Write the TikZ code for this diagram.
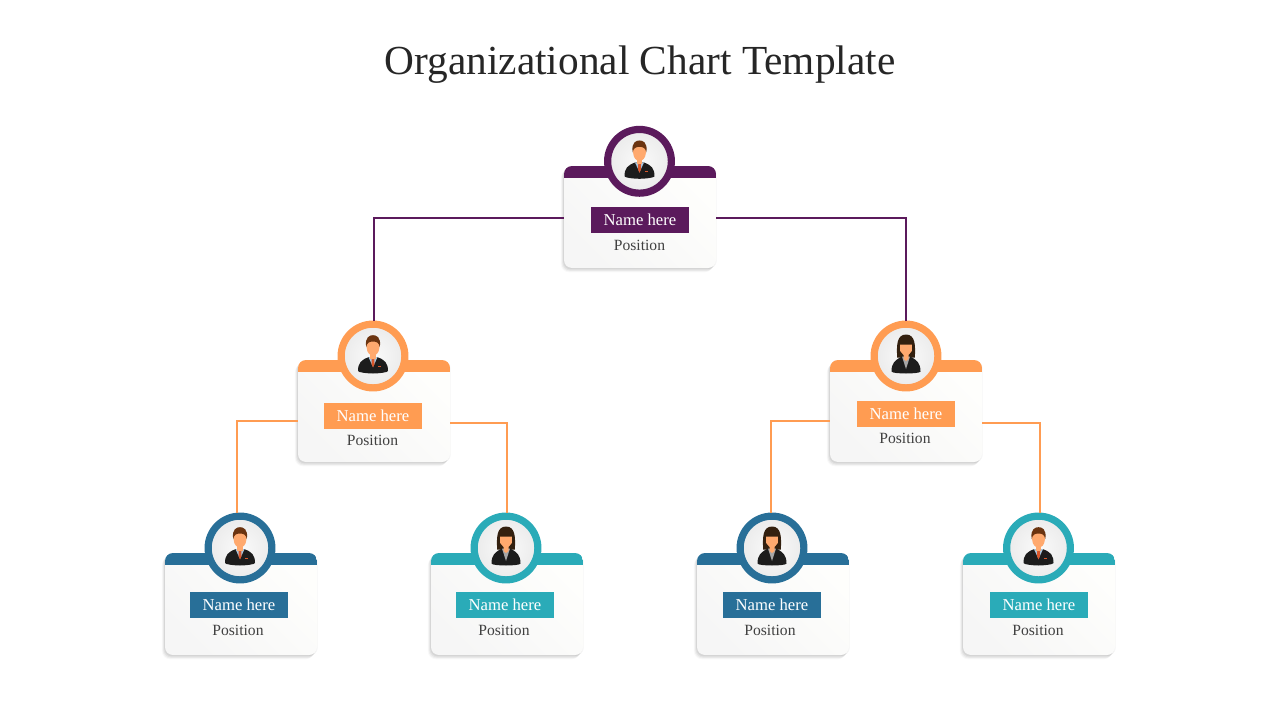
\documentclass[tikz,border=0pt]{standalone}
\usepackage{fontspec}
\setmainfont{Liberation Serif}
\usetikzlibrary{calc,shadows}
\definecolor{figpurple}{HTML}{5B1A5C}
\definecolor{figorange}{HTML}{FF9C52}
\definecolor{figblue}{HTML}{286F98}
\definecolor{figteal}{HTML}{2AABB8}
\definecolor{figtext}{HTML}{404040}
\definecolor{figskin}{HTML}{FFA96E}
\definecolor{fighair}{HTML}{6B3410}
\definecolor{figdarkhair}{HTML}{33200F}
\definecolor{figsuit}{HTML}{1C1C1C}
\definecolor{figshirt}{HTML}{A9C4DA}
\definecolor{figtie}{HTML}{D9572B}
\definecolor{figcardlight}{HTML}{FEFEFC}
\definecolor{figcarddark}{HTML}{F6F6F6}
\tikzset{
  cardblock/.style={
    rectangle, rounded corners=6pt, minimum width=114pt, minimum height=76.5pt,
    inner sep=0pt, top color=figcardlight, bottom color=figcarddark, shading angle=-45,
    drop shadow={shadow xshift=-2.4pt, shadow yshift=-3.2pt, opacity=0.025, fill=black},
    drop shadow={shadow xshift=-1.8pt, shadow yshift=-2.6pt, opacity=0.04, fill=black},
    drop shadow={shadow xshift=-1.2pt, shadow yshift=-1.9pt, opacity=0.05, fill=black},
    drop shadow={shadow xshift=-0.6pt, shadow yshift=-1.1pt, opacity=0.06, fill=black},
    drop shadow={shadow xshift=0.5pt, shadow yshift=-0.5pt, opacity=0.04, fill=black},
    path picture={
      \fill[#1, sharp corners] (path picture bounding box.north west) rectangle
        ([yshift=-9pt]path picture bounding box.north east);
    }
  },
  ringnode/.style={
    circle, draw=#1, line width=5.4pt, minimum size=47.8pt, inner sep=0pt,
    inner color=black!2, outer color=black!8
  },
  namebox/.style={
    rectangle, fill=#1, text=white, minimum width=73.5pt, minimum height=19.5pt,
    inner sep=0pt, font=\fontsize{12.5}{14}\selectfont
  },
  postext/.style={
    text=figtext, inner sep=0pt, font=\fontsize{11.7}{14}\selectfont
  },
  boss/.style={-, line width=1.5pt, draw=figpurple},
  lead/.style={-, line width=1.5pt, draw=figorange},
  maleicon/.pic={
    \fill[figsuit] (-15,15) .. controls (-15,7) and (-12,4) .. (-4.5,1.2)
      -- (4.5,1.2) .. controls (12,4) and (15,7) .. (15,15)
      .. controls (15,16.5) and (5,17.5) .. (0,17.5)
      .. controls (-5,17.5) and (-15,16.5) .. (-15,15) -- cycle;
    \fill[figshirt] (-4.5,1.2) -- (4.5,1.2) -- (0,11) -- cycle;
    \fill[figtie] (-1.2,2) -- (1.2,2) -- (1.5,8) -- (0,11.5) -- (-1.5,8) -- cycle;
    \fill[figtie] (5,10) rectangle (8,11);
    \fill[figskin] (-2.8,-4) rectangle (2.8,2.5);
    \fill[figskin] (-6.3,-15) -- (-6.3,-8) .. controls (-6,-3) and (-3,-0.5) .. (0,-0.5)
      .. controls (3,-0.5) and (6,-3) .. (6.3,-8) -- (6.3,-15) -- cycle;
    \fill[fighair] (-6.8,-9) .. controls (-8.5,-19) and (-3,-21) .. (0,-20.8)
      .. controls (3,-21) and (8.5,-19) .. (6.8,-9)
      .. controls (6,-13) and (4,-14.5) .. (0,-14.5)
      .. controls (-4,-14.5) and (-6,-13) .. (-6.8,-9) -- cycle;
  },
  femaleicon/.pic={
    \fill[figdarkhair] (-8.8,1.5) .. controls (-9.5,-10) and (-9.5,-21.5) .. (0,-21.5)
      .. controls (9.5,-21.5) and (9.5,-10) .. (8.8,1.5) -- cycle;
    \fill[figsuit] (-14.5,15.5) .. controls (-14.5,7) and (-11,4) .. (-4,0.5)
      -- (4,0.5) .. controls (11,4) and (14.5,7) .. (14.5,15.5)
      .. controls (14.5,17) and (5,17.5) .. (0,17.5)
      .. controls (-5,17.5) and (-14.5,17) .. (-14.5,15.5) -- cycle;
    \fill[black!35] (-4,0.5) -- (4,0.5) -- (0,13) -- cycle;
    \fill[figskin] (-5.8,-11.5) -- (5.8,-11.5) -- (5.8,-5) -- (2.5,-1) -- (2.5,3)
      -- (0,5) -- (-2.5,3) -- (-2.5,-1) -- (-5.8,-5) -- cycle;
  }
}
\begin{document}
\begin{tikzpicture}[x=0.75pt, y=-0.75pt]
  \useasboundingbox (0,0) rectangle (1280,720);

  \node[text=black!85, inner sep=0pt, font=\fontsize{31}{36}\selectfont] (title) at (640,65) {Organizational Chart Template};

  % Cards
  \node[cardblock=figpurple] (ceo) at (640,217) {};
  \node[cardblock=figorange] (leadl) at (374,411) {};
  \node[cardblock=figorange] (leadr) at (906,411) {};
  \node[cardblock=figblue] (staffa) at (241,604) {};
  \node[cardblock=figteal] (staffb) at (507,604) {};
  \node[cardblock=figblue] (staffc) at (773,604) {};
  \node[cardblock=figteal] (staffd) at (1039,604) {};

  % Rings with the people in them
  \node[ringnode=figpurple] (ceoring) at (639.5,161.3) {};
  \node[ringnode=figorange] (leadlring) at (373,356) {};
  \node[ringnode=figorange] (leadrring) at (906,356) {};
  \node[ringnode=figblue] (staffaring) at (240,548) {};
  \node[ringnode=figteal] (staffbring) at (506,548) {};
  \node[ringnode=figblue] (staffcring) at (772,548) {};
  \node[ringnode=figteal] (staffdring) at (1038.5,548) {};
  \pic at (ceoring) {maleicon};
  \pic at (leadlring) {maleicon};
  \pic at (leadrring) {femaleicon};
  \pic at (staffaring) {maleicon};
  \pic at (staffbring) {femaleicon};
  \pic at (staffcring) {femaleicon};
  \pic at (staffdring) {maleicon};

  % Name labels
  \node[namebox=figpurple] (ceoname) at (640,220) {Name here};
  \node[namebox=figorange] (leadlname) at (373,416) {Name here};
  \node[namebox=figorange] (leadrname) at (906,414) {Name here};
  \node[namebox=figblue] (staffaname) at (239,605) {Name here};
  \node[namebox=figteal] (staffbname) at (505,605) {Name here};
  \node[namebox=figblue] (staffcname) at (772,605) {Name here};
  \node[namebox=figteal] (staffdname) at (1039,605) {Name here};

  \node[postext] (ceopos) at (639.5,245) {Position};
  \node[postext] (leadlpos) at (372.5,440) {Position};
  \node[postext] (leadrpos) at (905,438) {Position};
  \node[postext] (staffapos) at (238,630) {Position};
  \node[postext] (staffbpos) at (504,630) {Position};
  \node[postext] (staffcpos) at (770,630) {Position};
  \node[postext] (staffdpos) at (1038,630) {Position};

  % Connectors
  \draw[boss] ([yshift=-0.75pt]ceo.west) -| ([xshift=0.75pt]leadlring.north);
  \draw[boss] ([yshift=-0.75pt]ceo.east) -| (leadrring.north);
  \draw[lead] ([yshift=-7.5pt]leadl.west) -| ([xshift=-2.25pt]staffaring.north);
  \draw[lead] ([yshift=-9pt]leadl.east) -| ([xshift=0.75pt]staffbring.north);
  \draw[lead] ([yshift=-7.5pt]leadr.west) -| ([xshift=-0.75pt]staffcring.north);
  \draw[lead] ([yshift=-9pt]leadr.east) -| ([xshift=1.15pt]staffdring.north);
\end{tikzpicture}
\end{document}
